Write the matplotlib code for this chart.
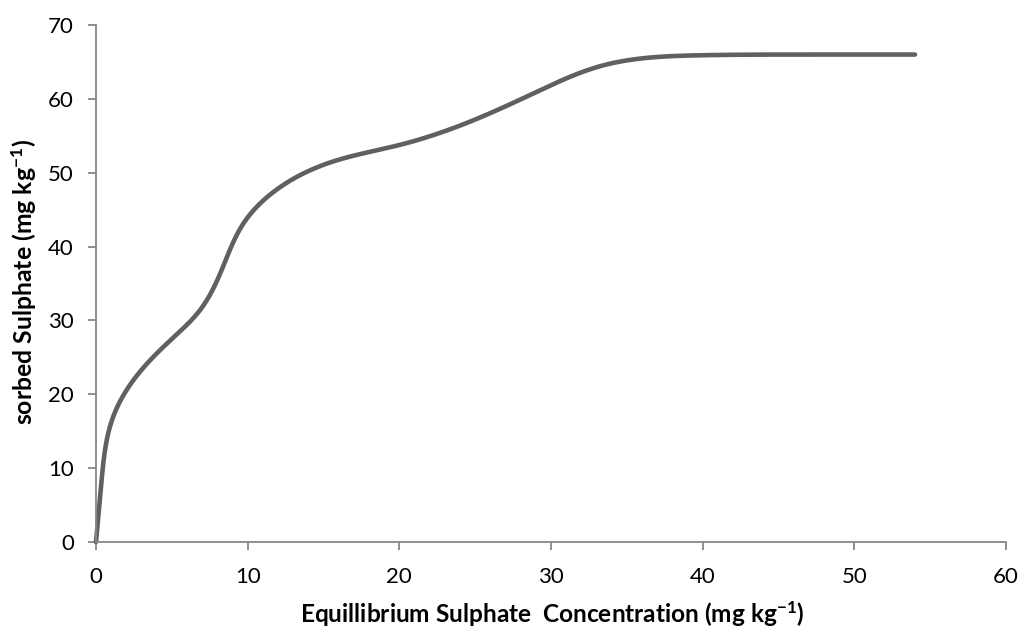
import numpy as np
import matplotlib
matplotlib.use("Agg")
import matplotlib.pyplot as plt
from matplotlib import font_manager as fm

# Data
conc = [0.0, 0.37, 1.14, 2.46, 4.9, 6.86, 8.28, 9.71, 11.9, 15.6, 20.0, 24.4, 28.8, 33.2, 39.8, 47.0, 54.0]
sorbed = [0.0, 8.4, 17.0, 21.9, 27.3, 31.4, 36.8, 43.1, 47.7, 51.5, 53.75, 56.7, 60.7, 64.4, 65.9, 66.0, 66.0]
xticks = [0, 10, 20, 30, 40, 50, 60]
yticks = [0, 10, 20, 30, 40, 50, 60, 70]

# choose a family that really has a bold face
fam = 'Lato'
for cand in ['Lato', 'Open Sans', 'Noto Sans', 'Liberation Sans']:
    try:
        p = fm.findfont(fm.FontProperties(family=cand, weight='bold'), fallback_to_default=False)
        if 'bold' in p.lower() or 'black' in p.lower() or 'heavy' in p.lower():
            fam = cand
            break
    except Exception:
        pass

plt.rcParams['font.family'] = ['Lato', 'DejaVu Sans']
plt.rcParams['mathtext.default'] = 'regular'

XR, YR = 60.0, 70.0
AXW, AXH = 910.0, 517.0


def natural_spline(t, v, tt):
    n = len(t)
    h = np.diff(t)
    A = np.zeros((n, n))
    b = np.zeros(n)
    A[0, 0] = 1.0
    A[-1, -1] = 1.0
    for i in range(1, n - 1):
        A[i, i - 1] = h[i - 1]
        A[i, i] = 2 * (h[i - 1] + h[i])
        A[i, i + 1] = h[i]
        b[i] = 6 * ((v[i + 1] - v[i]) / h[i] - (v[i] - v[i - 1]) / h[i - 1])
    M = np.linalg.solve(A, b)
    idx = np.clip(np.searchsorted(t, tt) - 1, 0, n - 2)
    t0, t1 = t[idx], t[idx + 1]
    hh = t1 - t0
    a = (t1 - tt) / hh
    c = (tt - t0) / hh
    return (a * v[idx] + c * v[idx + 1]
            + ((a ** 3 - a) * M[idx] + (c ** 3 - c) * M[idx + 1]) * hh ** 2 / 6.0)


def smooth(xs, ys, n=2000):
    px = np.asarray(xs, float) / XR * AXW
    py = np.asarray(ys, float) / YR * AXH
    d = np.hypot(np.diff(px), np.diff(py))
    t = np.concatenate([[0.0], np.cumsum(d)])
    tt = np.linspace(0, t[-1], n)
    return natural_spline(t, px, tt) / AXW * XR, natural_spline(t, py, tt) / AXH * YR


fig = plt.figure(figsize=(10.21, 6.29), dpi=100)
ax = fig.add_axes([96 / 1021, 87 / 629, AXW / 1021, AXH / 629])

sx, sy = smooth(conc, sorbed)
ax.plot(sx, sy, color='#606060', linewidth=3.3, solid_capstyle='round', clip_on=False)

ax.set_xlim(0, 60)
ax.set_ylim(0, 70)
ax.set_xticks(xticks)
ax.set_yticks(yticks)
for s in ['top', 'right']:
    ax.spines[s].set_visible(False)
for s in ['left', 'bottom']:
    ax.spines[s].set_color('#878787')
    ax.spines[s].set_linewidth(1.3)
ax.tick_params(axis='both', direction='out', length=6, width=1.3, color='#878787',
               labelsize=16, labelcolor='#000000')
ax.tick_params(axis='x', pad=12)
ax.tick_params(axis='y', pad=10)

xl = ax.set_xlabel('Equillibrium Sulphate  Concentration (mg kg$^{-1}$)', fontsize=15,
                   fontweight='bold', family=[fam, 'DejaVu Sans'])
yl = ax.set_ylabel('sorbed Sulphate (mg kg$^{-1}$)', fontsize=15, fontweight='bold',
                   family=[fam, 'DejaVu Sans'])

# scale label sizes to the reference extents
fig.canvas.draw()
r = fig.canvas.get_renderer()
wx = xl.get_window_extent(r).width
xl.set_fontsize(15 * 505.0 / wx)
hy = yl.get_window_extent(r).height
yl.set_fontsize(15 * 287.0 / hy)
ax.xaxis.set_label_coords((552 - 96) / AXW, (629 - 614 - 87) / AXH)
ax.yaxis.set_label_coords((24 - 96) / AXW, (629 - 282 - 87) / AXH)
xl.set_va('center')
yl.set_va('center')

fig.savefig('out.png', dpi=100)
